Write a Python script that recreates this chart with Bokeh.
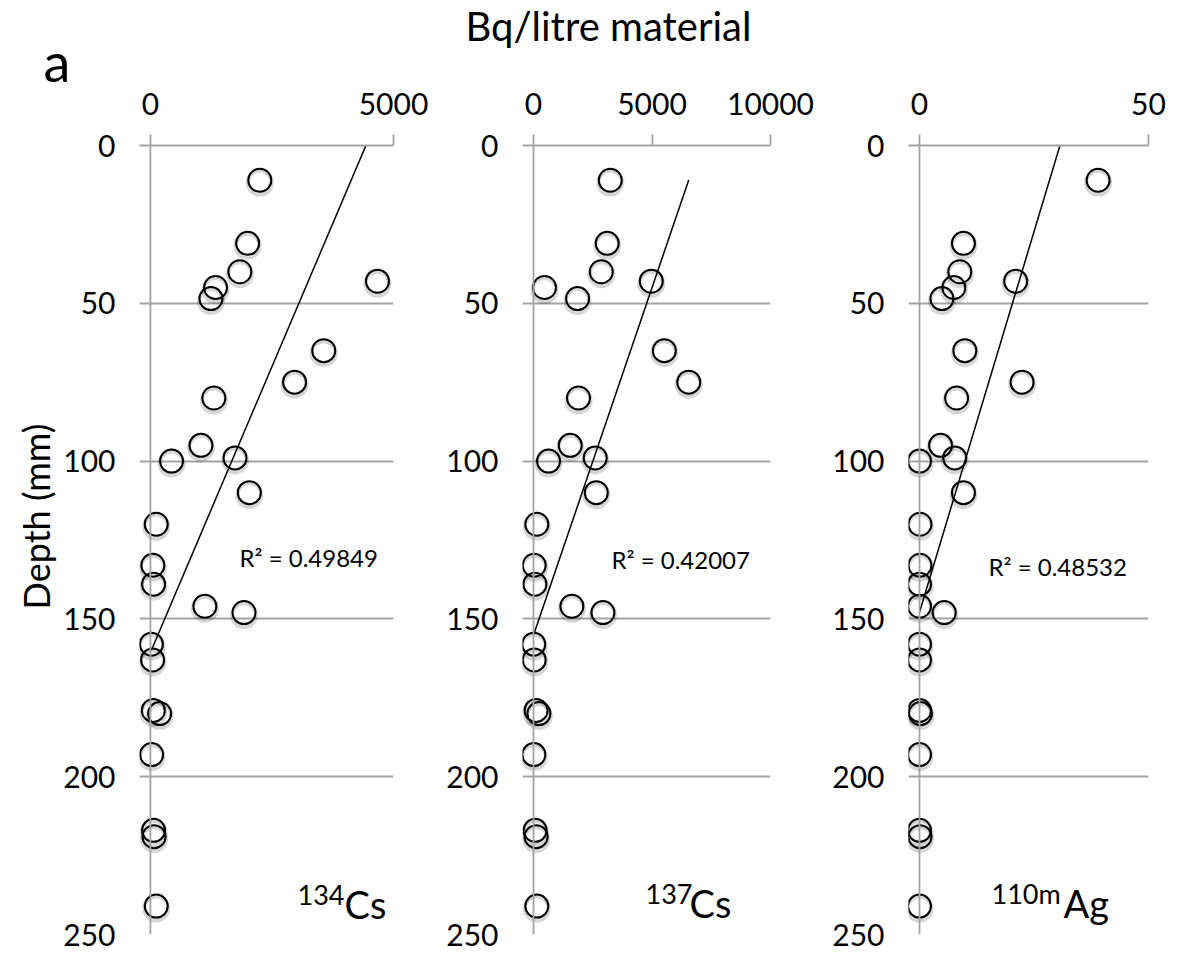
import numpy as np
from bokeh.plotting import figure
from bokeh.models import Range1d, FixedTicker, Span, Label, ColumnDataSource
from bokeh.layouts import row, column
from bokeh.transform import dodge
from bokeh.embed import file_html
from bokeh.resources import INLINE

# ---------------- data ----------------
depth_mm = [11, 31, 40, 43, 45, 48.5, 65, 75, 80, 95, 99, 100, 110, 120,
            133, 139, 146, 148, 158, 163, 179, 180, 193, 217, 219, 241]
cs134 = [2250, 2000, 1840, 4670, 1340, 1245, 3565, 2965, 1305, 1040, 1740, 435, 2035, 120,
         50, 65, 1120, 1925, 20, 45, 60, 190, 25, 65, 75, 120]
cs137 = [3240, 3110, 2860, 4970, 465, 1860, 5520, 6550, 1900, 1550, 2605, 635, 2650, 140,
         30, 60, 1620, 2930, 10, 30, 110, 230, 15, 70, 110, 140]
ag110m = [39, 9.6, 8.8, 21, 7.5, 4.9, 9.9, 22.4, 8.1, 4.6, 7.7, 0, 9.6, 0.1,
          0.1, 0, 0, 5.4, 0, 0, 0, 0.2, 0, 0, 0.1, 0]

x_max = [5000, 10000, 50]
x_ticks = [[0, 5000], [0, 5000, 10000], [0, 50]]
y_ticks = [0, 50, 100, 150, 200, 250]
r2_text = ["R\u00b2 = 0.49849", "R\u00b2 = 0.42007", "R\u00b2 = 0.48532"]
mass_numbers = ["134", "137", "110m"]
elements = ["Cs", "Cs", "Ag"]
title_text = "Bq/litre material"
panel_letter = "a"
y_label = "Depth (mm)"

# ---------------- style / layout ----------------
FONT = "Lato"
GRID = "#a3a3a3"
W, H = 1182, 961
HEADER_H = 86         # header band holding "a" and the main title
STRIP_W = 60          # left strip holding the y-axis title
FRAME_TOP, FRAME_BOTTOM = 145, 934
TICK = 11
# (figure left, px of x=0, px of x=max, figure right) in page pixels
panels_px = [(STRIP_W, 148, 393, 440), (440, 533, 770, 820), (820, 919, 1148, 1182)]
r2_pos = [(237, 557), (611, 559), (988, 566)]                  # left x, middle y
# superscript left x, element left x, superscript middle y, element middle y
iso_pos = [(295, 342, 894, 903), (645, 689, 893, 902), (991, 1063, 893, 902)]


def make_panel(i, conc):
    fig_left, x0px, x1px, fig_right = panels_px[i]
    span_px = x1px - x0px
    pad = TICK * x_max[i] / span_px
    frame_left = x0px - TICK
    p = figure(width=fig_right - fig_left, height=H - HEADER_H,
               x_range=Range1d(-pad, x_max[i]), y_range=Range1d(250, 0),
               x_axis_location="above", output_backend="svg", toolbar_location=None,
               min_border_left=frame_left - fig_left, min_border_right=fig_right - x1px,
               min_border_top=FRAME_TOP - HEADER_H, min_border_bottom=H - FRAME_BOTTOM)
    p.outline_line_color = None
    p.background_fill_color = "white"
    p.border_fill_color = "white"

    xa = p.xaxis[0]
    xa.ticker = FixedTicker(ticks=x_ticks[i])
    xa.axis_line_color = GRID
    xa.axis_line_width = 1.8
    xa.major_tick_line_color = GRID
    xa.major_tick_line_width = 1.8
    xa.major_tick_out = TICK
    xa.major_tick_in = 0
    xa.minor_tick_line_color = None
    xa.major_label_text_font = FONT
    xa.major_label_text_font_size = "30px"
    xa.major_label_text_color = "black"
    xa.major_label_standoff = 20

    ya = p.yaxis[0]
    ya.ticker = FixedTicker(ticks=y_ticks)
    ya.axis_line_color = None
    ya.major_tick_line_color = None
    ya.major_tick_out = 0
    ya.major_tick_in = 0
    ya.minor_tick_line_color = None
    ya.major_label_text_font = FONT
    ya.major_label_text_font_size = "30px"
    ya.major_label_text_color = "black"
    ya.major_label_standoff = 24

    p.xgrid.grid_line_color = None
    p.ygrid.grid_line_color = GRID
    p.ygrid.grid_line_width = 1.8

    p.add_layout(Span(location=0, dimension="height", line_color=GRID, line_width=1.8))

    src = ColumnDataSource(dict(conc=conc, depth=depth_mm))
    p.scatter(x="conc", y=dodge("depth", 0.8, range=p.y_range), source=src, marker="circle",
              size=24, fill_color=None, line_color="black", line_alpha=0.16, line_width=4)
    p.scatter(x="conc", y="depth", source=src, marker="circle", size=23,
              fill_color=None, line_color="black", line_width=2)

    coef = np.polyfit(np.array(conc, float), np.array(depth_mm, float), 1)
    xs = np.array([min(conc), max(conc)], float)
    p.line(xs, np.polyval(coef, xs), line_color="black", line_width=1.5)

    rx, ry = r2_pos[i]
    p.add_layout(Label(x=rx - frame_left, y=FRAME_BOTTOM - ry, x_units="screen", y_units="screen",
                       text=r2_text[i], text_font=FONT, text_font_size="24px",
                       text_align="left", text_baseline="middle", text_color="black"))
    sx, ex, sup_mid, el_mid = iso_pos[i]
    p.add_layout(Label(x=sx - frame_left, y=FRAME_BOTTOM - sup_mid, x_units="screen", y_units="screen",
                       text=mass_numbers[i], text_font=FONT, text_font_size="27px",
                       text_align="left", text_baseline="middle", text_color="black"))
    p.add_layout(Label(x=ex - frame_left, y=FRAME_BOTTOM - el_mid, x_units="screen", y_units="screen",
                       text=elements[i], text_font=FONT, text_font_size="38px",
                       text_align="left", text_baseline="middle", text_color="black"))
    return p


# header band (data coordinates = page pixels)
header = figure(width=W, height=HEADER_H, x_range=Range1d(0, W), y_range=Range1d(HEADER_H, 0),
                x_axis_location=None, y_axis_location=None, min_border=0, title=None,
                output_backend="svg", toolbar_location=None)
header.outline_line_color = None
header.grid.visible = False
header.add_layout(Label(x=43, y=61, text=panel_letter, text_font=FONT, text_font_size="54px",
                        text_align="left", text_baseline="middle", text_color="black"))
header.add_layout(Label(x=465, y=25, text=title_text, text_font=FONT, text_font_size="40px",
                        text_align="left", text_baseline="middle", text_color="black"))

# left strip: y-axis title (data y = page pixels)
strip = figure(width=STRIP_W, height=H - HEADER_H, x_range=Range1d(0, STRIP_W),
               y_range=Range1d(FRAME_BOTTOM, FRAME_TOP),
               x_axis_location=None, y_axis_location=None,
               min_border_left=0, min_border_right=0,
               min_border_top=FRAME_TOP - HEADER_H, min_border_bottom=H - FRAME_BOTTOM,
               title=None, output_backend="svg", toolbar_location=None)
strip.outline_line_color = None
strip.grid.visible = False
strip.add_layout(Label(x=35, y=516, text=y_label, text_font=FONT, text_font_size="36px",
                       angle=np.pi / 2, text_align="center", text_baseline="middle",
                       text_color="black"))

p1 = make_panel(0, cs134)
p2 = make_panel(1, cs137)
p3 = make_panel(2, ag110m)

layout = column(header, row(strip, p1, p2, p3, spacing=0), spacing=0)
open("out.html", "w").write(file_html(layout, INLINE))
